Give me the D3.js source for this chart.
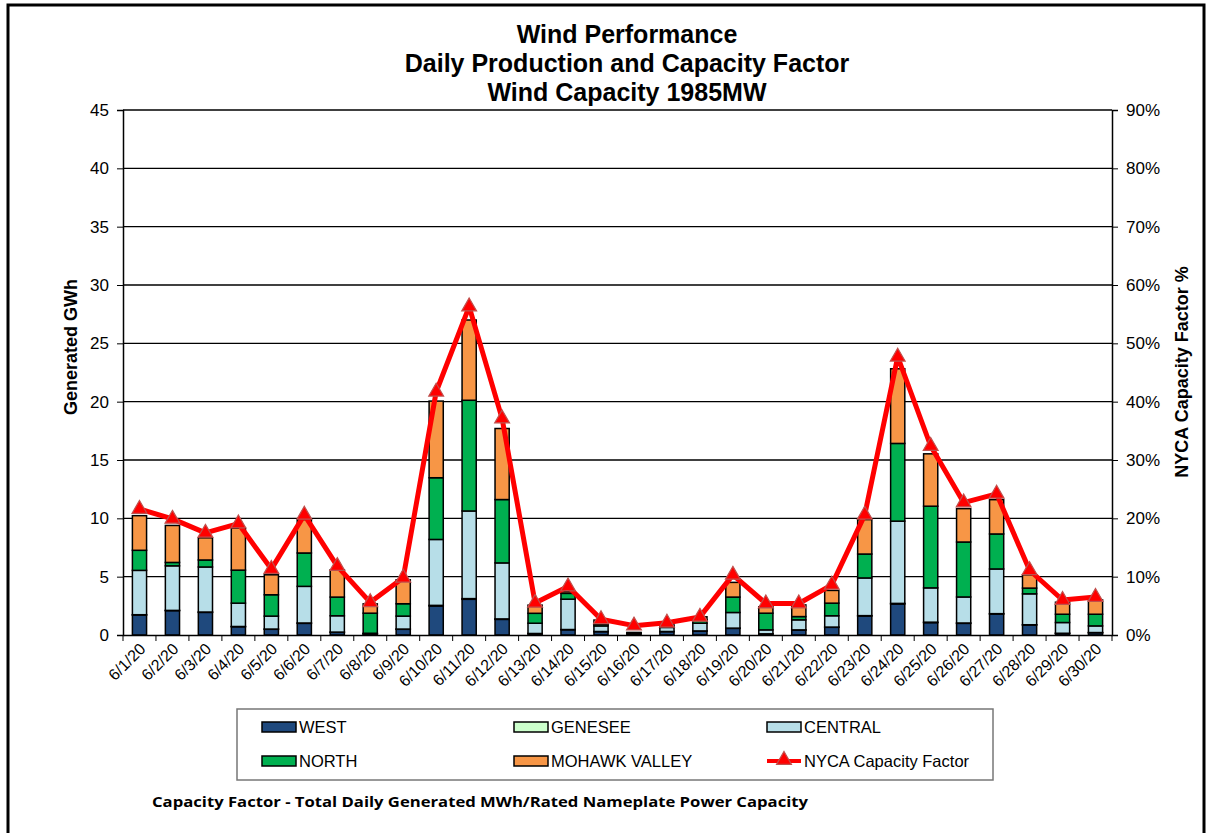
<!DOCTYPE html>
<html>
<head>
<script src="https://d3js.org/d3.v7.min.js"></script>
<style>
  body { margin: 0; background: #fff; }
  text { font-family: "Liberation Sans", Arial, sans-serif; }
</style>
</head>
<body>
<div id="chart"></div>
<script>
// ---- data ----
var dates = ["6/1/20","6/2/20","6/3/20","6/4/20","6/5/20","6/6/20","6/7/20","6/8/20","6/9/20","6/10/20",
             "6/11/20","6/12/20","6/13/20","6/14/20","6/15/20","6/16/20","6/17/20","6/18/20","6/19/20","6/20/20",
             "6/21/20","6/22/20","6/23/20","6/24/20","6/25/20","6/26/20","6/27/20","6/28/20","6/29/20","6/30/20"];

var west    = [1.71, 2.09, 1.94, 0.71, 0.49, 1.00, 0.23, 0.09, 0.49, 2.49,
               3.06, 1.34, 0.12, 0.45, 0.29, 0.10, 0.29, 0.34, 0.57, 0.09,
               0.43, 0.66, 1.63, 2.66, 1.06, 1.00, 1.80, 0.86, 0.14, 0.20];
var genesee = [0.03, 0.02, 0.03, 0.02, 0.02, 0.03, 0.02, 0.01, 0.02, 0.05,
               0.06, 0.04, 0.01, 0.02, 0.01, 0.00, 0.01, 0.01, 0.02, 0.01,
               0.01, 0.02, 0.03, 0.05, 0.04, 0.03, 0.03, 0.02, 0.01, 0.01];
var central = [3.80, 3.82, 3.86, 2.00, 1.11, 3.14, 1.40, 0.05, 1.11, 5.65,
               7.51, 4.80, 0.88, 2.60, 0.48, 0.05, 0.35, 0.66, 1.34, 0.34,
               0.86, 0.97, 3.23, 7.05, 2.94, 2.23, 3.83, 2.65, 0.92, 0.57];
var north   = [1.72, 0.29, 0.60, 2.83, 1.83, 2.86, 1.60, 1.72, 1.06, 5.29,
               9.49, 5.43, 0.85, 0.50, 0.15, 0.02, 0.10, 0.30, 1.32, 1.43,
               0.28, 1.08, 2.05, 6.66, 7.00, 4.71, 3.00, 0.49, 0.71, 1.00];
var mohawk  = [2.97, 3.17, 1.90, 3.60, 1.71, 2.86, 2.34, 0.80, 2.05, 6.57,
               6.88, 6.09, 0.70, 0.15, 0.35, 0.05, 0.12, 0.25, 1.26, 0.55,
               1.00, 1.09, 2.95, 6.40, 4.49, 2.86, 2.94, 1.14, 1.03, 1.23];
// NYCA capacity factor, percent
var capFactor = [21.6, 19.9, 17.5, 19.1, 11.3, 20.6, 11.8, 5.6, 9.8, 41.7,
                 56.3, 37.1, 5.5, 8.3, 2.7, 1.6, 2.1, 3.1, 10.3, 5.4,
                 5.4, 8.6, 20.6, 47.7, 32.4, 22.7, 24.2, 11.1, 6.0, 6.5];

var leftTicks  = [0, 5, 10, 15, 20, 25, 30, 35, 40, 45];
var rightTicks = [0, 10, 20, 30, 40, 50, 60, 70, 80, 90];

var seriesNames  = ["WEST", "GENESEE", "CENTRAL", "NORTH", "MOHAWK VALLEY"];
var seriesColors = ["#1f497d", "#ccffcc", "#b7dee8", "#00b050", "#f79646"];
var titleLines = ["Wind Performance", "Daily Production and Capacity Factor", "Wind Capacity 1985MW"];

// ---- layout ----
var W = 1210, H = 833;
var plot = { left: 123, right: 1112, top: 110, bottom: 635 };

var svg = d3.select("#chart").append("svg")
    .attr("width", W).attr("height", H);

// outer frame
svg.append("rect")
    .attr("x", 8).attr("y", 5).attr("width", 1196).attr("height", 840)
    .attr("fill", "none").attr("stroke", "#000").attr("stroke-width", 3);

// titles
svg.selectAll(".title").data(titleLines).enter().append("text")
    .attr("x", 627).attr("y", function (d, i) { return 43 + i * 29; })
    .attr("text-anchor", "middle")
    .style("font-size", "25px").style("font-weight", "bold")
    .text(function (d) { return d; });

var x = d3.scaleBand().domain(dates).range([plot.left, plot.right]).padding(0);
var y = d3.scaleLinear().domain([0, 45]).range([plot.bottom, plot.top]);
var y2 = d3.scaleLinear().domain([0, 90]).range([plot.bottom, plot.top]);
var barW = x.bandwidth() * 0.43;

// gridlines
svg.append("g").selectAll("line").data(leftTicks.slice(1)).enter().append("line")
    .attr("x1", plot.left).attr("x2", plot.right)
    .attr("y1", function (d) { return y(d); }).attr("y2", function (d) { return y(d); })
    .attr("stroke", "#000").attr("stroke-width", 1.3);

// stacked bars
var rows = dates.map(function (d, i) {
    return { date: d, WEST: west[i], GENESEE: genesee[i], CENTRAL: central[i], NORTH: north[i], "MOHAWK VALLEY": mohawk[i] };
});
var stack = d3.stack().keys(seriesNames)(rows);

svg.append("g").selectAll("g").data(stack).enter().append("g")
    .attr("fill", function (d, i) { return seriesColors[i]; })
    .selectAll("rect").data(function (d) { return d; }).enter().append("rect")
    .attr("x", function (d) { return x(d.data.date) + (x.bandwidth() - barW) / 2; })
    .attr("width", barW)
    .attr("y", function (d) { return y(d[1]); })
    .attr("height", function (d) { return Math.max(0, y(d[0]) - y(d[1])); })
    .attr("stroke", "#000").attr("stroke-width", 1.5);

// axes
var leftAxis = svg.append("g")
    .attr("transform", "translate(" + plot.left + ",0)")
    .call(d3.axisLeft(y).tickValues(leftTicks).tickSize(6).tickPadding(8));
var rightAxis = svg.append("g")
    .attr("transform", "translate(" + plot.right + ",0)")
    .call(d3.axisRight(y2).tickValues(rightTicks).tickSize(6).tickPadding(8)
        .tickFormat(function (d) { return d + "%"; }));
var bottomAxis = svg.append("g")
    .attr("transform", "translate(0," + plot.bottom + ")")
    .call(d3.axisBottom(x).tickSize(0).tickFormat(""));

[leftAxis, rightAxis, bottomAxis].forEach(function (g) {
    g.select(".domain").attr("stroke", "#000").attr("stroke-width", 1.5);
    g.selectAll("line").attr("stroke", "#000");
    g.selectAll("text").style("font-size", "17px").attr("fill", "#000")
        .style("font-family", "'Liberation Sans', Arial, sans-serif");
});

// category boundary ticks
svg.append("g").selectAll("line").data(dates.concat(["end"])).enter().append("line")
    .attr("x1", function (d, i) { return plot.left + i * x.step(); })
    .attr("x2", function (d, i) { return plot.left + i * x.step(); })
    .attr("y1", plot.bottom).attr("y2", plot.bottom + 6)
    .attr("stroke", "#000").attr("stroke-width", 1);

// date labels
svg.append("g").selectAll("text").data(dates).enter().append("text")
    .attr("transform", function (d) {
        return "translate(" + (x(d) + x.bandwidth() / 2 + 7) + "," + (plot.bottom + 15) + ") rotate(-45)";
    })
    .attr("text-anchor", "end")
    .style("font-size", "16px")
    .text(function (d) { return d; });

// axis titles
svg.append("text")
    .attr("transform", "translate(77,347) rotate(-90)")
    .attr("text-anchor", "middle")
    .style("font-size", "18px").style("font-weight", "bold")
    .text("Generated GWh");
svg.append("text")
    .attr("transform", "translate(1188,372) rotate(-90)")
    .attr("text-anchor", "middle")
    .style("font-size", "18px").style("font-weight", "bold")
    .text("NYCA Capacity Factor %");

// capacity factor line
var cx = function (d, i) { return x(dates[i]) + x.bandwidth() / 2; };
svg.append("path")
    .datum(capFactor)
    .attr("fill", "none").attr("stroke", "#ff0000").attr("stroke-width", 5)
    .attr("stroke-linejoin", "round")
    .attr("d", d3.line().x(cx).y(function (d) { return y2(d); }));

var tri = d3.symbol().type(d3.symbolTriangle).size(95);
svg.append("g").selectAll("path").data(capFactor).enter().append("path")
    .attr("d", tri)
    .attr("transform", function (d, i) { return "translate(" + cx(d, i) + "," + y2(d) + ")"; })
    .attr("fill", "#ff0000").attr("stroke", "#c0504d").attr("stroke-width", 1.2);

// legend
var legend = svg.append("g");
legend.append("rect")
    .attr("x", 237).attr("y", 709).attr("width", 756).attr("height", 71)
    .attr("fill", "none").attr("stroke", "#777").attr("stroke-width", 1.5);

var legendItems = seriesNames.map(function (n, i) { return { name: n, color: seriesColors[i], line: false }; });
legendItems.push({ name: "NYCA Capacity Factor", color: "#ff0000", line: true });
var colX = [262, 514, 767];
var rowY = [727, 761];

var li = legend.selectAll(".li").data(legendItems).enter().append("g")
    .attr("transform", function (d, i) { return "translate(" + colX[i % 3] + "," + rowY[Math.floor(i / 3)] + ")"; });
li.filter(function (d) { return !d.line; }).append("rect")
    .attr("x", 0).attr("y", -5).attr("width", 34).attr("height", 10)
    .attr("fill", function (d) { return d.color; })
    .attr("stroke", "#000").attr("stroke-width", 1.5);
li.filter(function (d) { return d.line; }).append("line")
    .attr("x1", 0).attr("x2", 34).attr("y1", 0).attr("y2", 0)
    .attr("stroke", "#ff0000").attr("stroke-width", 4);
li.filter(function (d) { return d.line; }).append("path")
    .attr("d", tri).attr("transform", "translate(17,-1)")
    .attr("fill", "#ff0000").attr("stroke", "#c0504d").attr("stroke-width", 1.2);
li.append("text")
    .attr("x", 37).attr("y", 6)
    .style("font-size", "16.5px")
    .text(function (d) { return d.name; });

// footnote
svg.append("text")
    .attr("x", 152).attr("y", 807)
    .attr("textLength", 656).attr("lengthAdjust", "spacingAndGlyphs")
    .style("font-size", "15px").style("font-weight", "bold")
    .style("font-family", "'Open Sans', sans-serif")
    .text("Capacity Factor  - Total Daily Generated MWh/Rated Nameplate Power Capacity");
</script>
</body>
</html>
